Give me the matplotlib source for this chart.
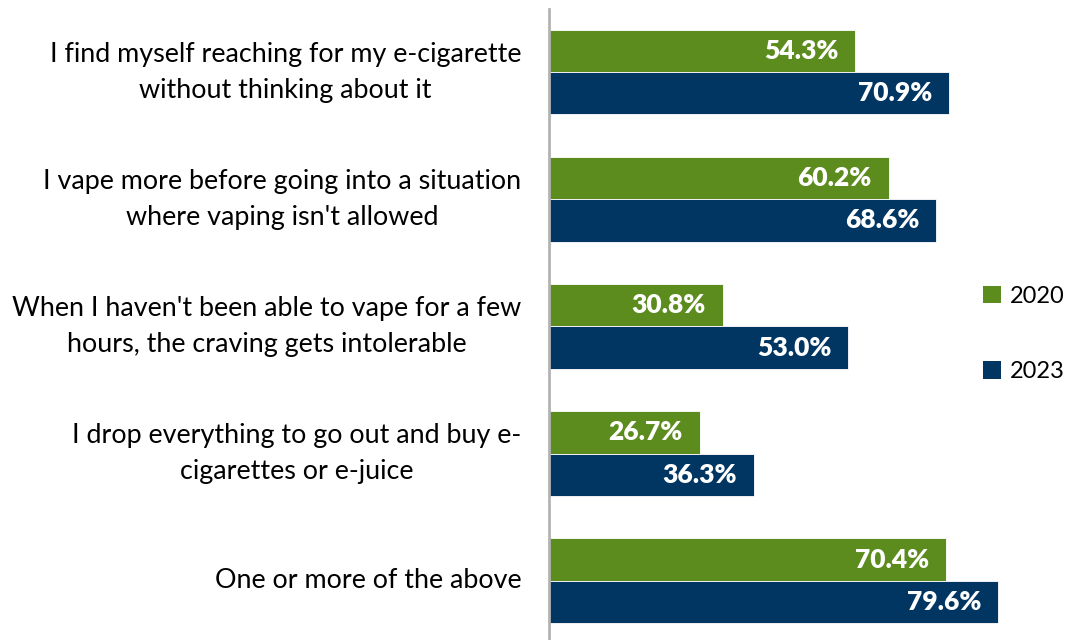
import matplotlib
matplotlib.use("Agg")
import matplotlib.pyplot as plt
from matplotlib.patches import Patch

# Survey statements and agreement shares by year
categories = [
    "I find myself reaching for my e-cigarette\nwithout thinking about it",
    "I vape more before going into a situation\nwhere vaping isn't allowed",
    "When I haven't been able to vape for a few\nhours, the craving gets intolerable",
    "I drop everything to go out and buy e-\ncigarettes or e-juice",
    "One or more of the above",
]
years = ["2020", "2023"]
values_2020 = [54.3, 60.2, 30.8, 26.7, 70.4]
values_2023 = [70.9, 68.6, 53.0, 36.3, 79.6]

GREEN = "#5b8c1d"
NAVY = "#023662"
FONT = ["Lato", "DejaVu Sans"]
plt.rcParams["font.family"] = FONT

W, H = 1071, 640
fig = plt.figure(figsize=(W / 100, H / 100), dpi=100)
ax = fig.add_axes([549 / W, 0, 1 - 549 / W, 1 - 9 / H])

bar_h = 0.332
ypos = list(range(len(categories)))
bars20 = ax.barh([y - bar_h / 2 for y in ypos], values_2020, height=bar_h,
                 color=GREEN, edgecolor="white", linewidth=0.6)
bars23 = ax.barh([y + bar_h / 2 for y in ypos], values_2023, height=bar_h,
                 color=NAVY, edgecolor="white", linewidth=0.6)

for bars, vals in ((bars20, values_2020), (bars23, values_2023)):
    for b, v in zip(bars, vals):
        ax.annotate(f"{v:.1f}%", (v, b.get_y() + b.get_height() / 2),
                    xytext=(-12, 0), textcoords="offset points",
                    ha="right", va="center", color="white",
                    fontsize=19, fontweight="heavy")

ax.set_xlim(0, (W - 549) / 5.64)
ax.set_ylim(4.467, -0.498)

for y, lab in zip(ypos, categories):
    ax.annotate(lab, (0, y), xytext=(-20, 0), textcoords="offset points",
                ha="right", va="center", multialignment="center",
                fontsize=19.4, color="black", linespacing=1.53,
                annotation_clip=False)

for s in ("top", "right", "bottom"):
    ax.spines[s].set_visible(False)
ax.spines["left"].set_color("#b3b3b3")
ax.spines["left"].set_linewidth(2)
ax.set_xticks([])
ax.set_yticks([])

handles = [Patch(facecolor=GREEN, label=years[0]),
           Patch(facecolor=NAVY, label=years[1])]
fig.legend(handles=handles, loc="center left",
           bbox_to_anchor=(974 / W, 1 - 334 / H), frameon=False,
           fontsize=17, handlelength=0.75, handleheight=0.75,
           handletextpad=0.35, labelspacing=2.3, borderaxespad=0)

fig.savefig("out.png", dpi=100)
